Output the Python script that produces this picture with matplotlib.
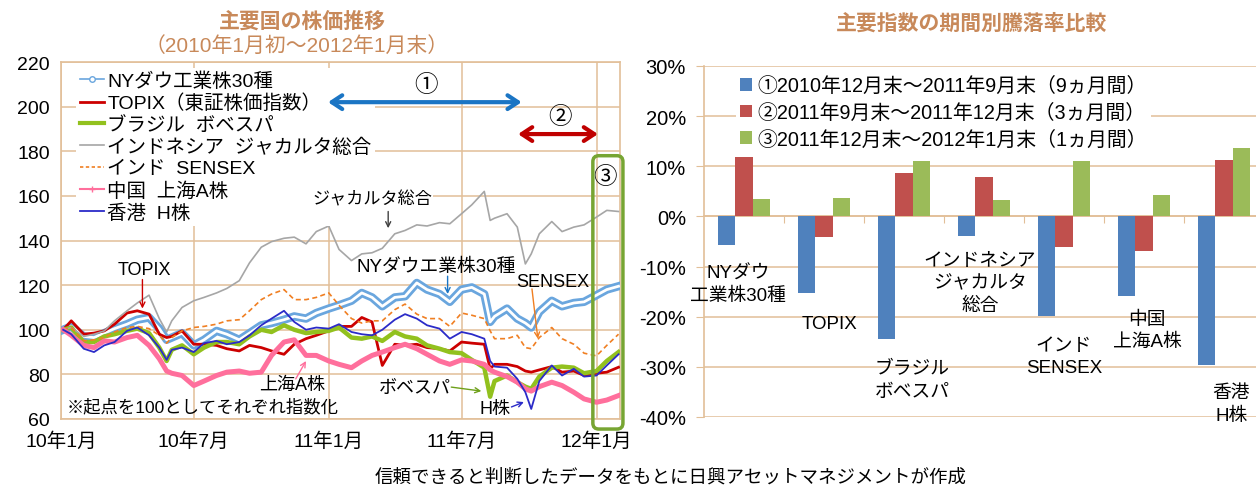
import matplotlib
matplotlib.use("Agg")
import matplotlib.pyplot as plt
import matplotlib.dates as mdates
import matplotlib.patheffects as pe
import pandas as pd
from matplotlib.lines import Line2D
from matplotlib.patches import FancyBboxPatch
from matplotlib.transforms import IdentityTransform

# Arial-like latin, Japanese glyphs fall back to Noto
plt.rcParams["font.family"] = ["Liberation Sans", "Noto Sans CJK JP", "DejaVu Sans"]

# --- left panel: index levels (start = 100) ---
DATES = [
    "2010-01-04", "2010-01-15", "2010-02-01", "2010-02-15", "2010-03-01", "2010-03-15",
    "2010-04-01", "2010-04-15", "2010-05-01", "2010-05-15", "2010-05-25", "2010-06-01",
    "2010-06-15", "2010-07-01", "2010-07-15", "2010-08-01", "2010-08-15", "2010-09-01",
    "2010-09-15", "2010-10-01", "2010-10-15", "2010-11-01", "2010-11-15", "2010-12-01",
    "2010-12-15", "2011-01-01", "2011-01-15", "2011-02-01", "2011-02-15", "2011-03-01",
    "2011-03-15", "2011-04-01", "2011-04-15", "2011-05-01", "2011-05-15", "2011-06-01",
    "2011-06-15", "2011-07-01", "2011-07-15", "2011-08-01", "2011-08-09", "2011-08-15",
    "2011-09-01", "2011-09-15", "2011-09-26", "2011-10-04", "2011-10-15", "2011-11-01",
    "2011-11-15", "2011-12-01", "2011-12-15", "2012-01-01", "2012-01-15", "2012-01-31",
]
NY_DOW = [100, 101.5, 97, 96.5, 98.5, 100.5, 102.5, 104.5, 105.5, 100.5, 95.5, 96.5, 98.5,
          93, 95.5, 99.5, 98, 95.5, 98.5, 102, 103, 104.5, 106, 105, 107.5,
          109.5, 111, 113, 116.5, 114.5, 110.5, 114.5, 115, 121, 118, 116, 112.5, 118, 119,
          116, 103.5, 106, 109.5, 105, 103, 101, 108, 113, 110.5, 112, 112.5, 115.5, 118, 119.5]
TOPIX = [100, 104, 98, 98.5, 99.5, 102.5, 107.5, 108.5, 107, 98, 96.5, 97, 99.5,
         93.5, 93.5, 93, 91.5, 90.5, 93, 92, 90.5, 89, 93.5, 96, 97.5,
         99.5, 101.5, 101.5, 105.5, 103.5, 84, 93.5, 93, 93.5, 92, 91.5, 90.5, 94.5, 94,
         93.5, 82.5, 84.5, 84.5, 83.5, 81.5, 81, 82, 83.5, 81, 81.5, 79.5, 80.5, 81, 83.2]
BOVESPA = [100, 101, 94.5, 94.5, 97, 98, 99.5, 100.5, 98.5, 92, 86, 91, 93,
           89, 92, 94.5, 94.5, 93.5, 97, 100, 99, 102, 100, 98.5, 99,
           99.5, 101, 96.5, 96, 97, 95, 99, 97, 96, 93, 91.5, 90, 89.5, 86.5,
           83, 70, 77, 79.5, 76.5, 74.5, 73.5, 79, 83, 83.5, 83, 80.5, 81.5, 86, 90]
JAKARTA = [100, 101, 97, 98, 99.5, 104, 108.5, 112, 115.5, 105, 99, 104, 110,
           113, 114.5, 116.5, 118.5, 122, 130, 137, 139.5, 141, 141.5, 138.5, 144,
           146.5, 136, 131, 134, 134.5, 136.5, 143, 144.5, 147, 146.5, 148, 147.5, 152, 156,
           162, 149, 150, 152, 146, 129.5, 134, 143, 148.5, 144, 146, 147, 150.5, 153.5, 153]
SENSEX = [100, 101, 95, 95.5, 96.5, 99, 101, 101.5, 100.5, 97.5, 94, 96.5, 99.5,
          101, 101.5, 102.5, 104, 104.5, 108.5, 113.5, 116, 118, 113.5, 113.5, 114.5,
          116.5, 111, 105, 103, 104, 104, 109, 111.5, 107, 105, 105, 101.5, 107.5, 106.5,
          105, 99.5, 96, 96, 97.5, 92, 91.5, 96.5, 101, 96, 93.5, 89.5, 88.3, 93, 98]
SHANGHAI_A = [100, 97.5, 93, 92, 95, 94.5, 96.5, 97.5, 93, 87, 81.5, 80.5, 79.5,
              75, 77, 79.5, 81, 81.5, 80.5, 81, 88.5, 94.5, 95.5, 88.5, 88.5,
              86, 84.5, 83, 86, 88.5, 90, 92, 93.5, 91.5, 89, 86, 84.5, 86.5, 86,
              84.5, 82, 81, 79, 76.5, 73.5, 72.5, 74.5, 76.5, 75, 72, 69, 67.5, 68.5, 70.5]
H_SHARES = [100, 98, 91.5, 90, 93, 94.5, 99.5, 101, 97.5, 92, 86.5, 91, 92,
            90, 94, 95, 93.5, 94.5, 97.5, 102, 105, 108.5, 103.5, 100, 101,
            100.5, 102.5, 99, 98, 97.5, 100, 104.5, 107, 105, 102, 100.5, 96, 99, 98,
            96, 86, 83.5, 83, 78, 72, 64.5, 77, 84, 79.5, 82.5, 79, 79.5, 84, 89]

SERIES_LABELS = ["NYダウ工業株30種", "TOPIX（東証株価指数）", "ブラジル  ボベスパ",
                 "インドネシア  ジャカルタ総合", "インド  SENSEX", "中国  上海A株", "香港  H株"]
X_TICKS = ["2010-01-01", "2010-07-01", "2011-01-01", "2011-07-01", "2012-01-01"]
X_TICK_LABELS = ["10年1月", "10年7月", "11年1月", "11年7月", "12年1月"]

# --- right panel: % change per period ---
CATEGORIES = ["NYダウ\n工業株30種", "TOPIX", "ブラジル\nボベスパ", "インドネシア\nジャカルタ\n総合",
              "インド\nSENSEX", "中国\n上海A株", "香港\nH株"]
PERIOD_1 = [-5.6, -15.3, -24.4, -4.0, -19.8, -15.9, -29.7]
PERIOD_2 = [11.9, -4.2, 8.6, 7.8, -6.0, -6.8, 11.3]
PERIOD_3 = [3.5, 3.6, 11.1, 3.2, 11.1, 4.2, 13.7]
PERIOD_LABELS = ["①2010年12月末～2011年9月末（9ヵ月間）",
                 "②2011年9月末～2011年12月末（3ヵ月間）",
                 "③2011年12月末～2012年1月末（1ヵ月間）"]

GRID = "#E2BF98"
TITLE_C = "#C8895A"
FS = 14

fig = plt.figure(figsize=(12.56, 4.89), dpi=100)

# ---------------- left panel ----------------
ax = fig.add_axes([61 / 1256, 69 / 489, 559 / 1256, 357 / 489])
d = pd.to_datetime(DATES)

ny_line = ax.plot(d, NY_DOW, color="#6AA6DE", lw=2, zorder=3)[0]
ny_line.set_path_effects([pe.Stroke(linewidth=6, foreground="#6AA6DE"),
                          pe.Stroke(linewidth=2, foreground="white")])
ax.plot(d, TOPIX, color="#CC0000", lw=2, zorder=3)
ax.plot(d, BOVESPA, color="#92C11E", lw=3.2, zorder=3)
ax.plot(d, JAKARTA, color="#A6A6A6", lw=1.2, zorder=3)
ax.plot(d, SENSEX, color="#F07F22", lw=1.2, ls=(0, (3, 2)), zorder=3)
ax.plot(d, SHANGHAI_A, color="#FF6F9C", lw=3.6, zorder=3)
ax.plot(d, H_SHARES, color="#2B2BC8", lw=1.3, zorder=3)

ax.set_xlim(pd.Timestamp("2010-01-01"), pd.Timestamp("2012-02-02"))
ax.set_ylim(60, 220)
ax.set_yticks(range(60, 221, 20))
ax.set_xticks(pd.to_datetime(X_TICKS))
ax.set_xticklabels(X_TICK_LABELS)
ax.grid(True, color=GRID, lw=1.1)
ax.set_axisbelow(True)
for s in ax.spines.values():
    s.set_color(GRID)
    s.set_linewidth(1.2)
ax.tick_params(length=0, labelsize=FS)
ax.tick_params(axis="x", pad=9)
ax.tick_params(axis="y", pad=8)

handles = [
    Line2D([], [], color="#6AA6DE", lw=1.2, marker="o", ms=4, mfc="white", mec="#6AA6DE"),
    Line2D([], [], color="#CC0000", lw=2),
    Line2D([], [], color="#92C11E", lw=3),
    Line2D([], [], color="#A6A6A6", lw=1.2),
    Line2D([], [], color="#F07F22", lw=1.2, ls=(0, (2, 1.5))),
    Line2D([], [], color="#FF6F9C", lw=1.5, marker="+", ms=5),
    Line2D([], [], color="#2B2BC8", lw=1.3),
]
leg = ax.legend(handles, SERIES_LABELS, loc="upper left", bbox_to_anchor=(0.027, 0.984),
                borderaxespad=0, frameon=True, fontsize=FS, handlelength=1.25,
                handletextpad=0.15, labelspacing=0.19, borderpad=0.2)
leg.get_frame().set_edgecolor("none")
leg.get_frame().set_facecolor("white")
leg.get_frame().set_alpha(1)
leg.set_zorder(5)

T = pd.Timestamp
# period arrows
ax.annotate("", xy=(T("2011-09-21"), 202), xytext=(T("2010-12-31"), 202),
            arrowprops=dict(arrowstyle="<->,head_length=0.5,head_width=0.33", color="#1B75C4",
                            lw=3, mutation_scale=15, shrinkA=0, shrinkB=0), zorder=6)
ax.text(T("2011-05-13"), 209.5, "①", fontsize=17, ha="center", va="center", zorder=6)
ax.annotate("", xy=(T("2012-01-03"), 187.7), xytext=(T("2011-09-16"), 187.7),
            arrowprops=dict(arrowstyle="<->,head_length=0.5,head_width=0.33", color="#C00000",
                            lw=3, mutation_scale=15, shrinkA=0, shrinkB=0), zorder=6)
ax.text(T("2011-11-12"), 195.3, "②", fontsize=17, ha="center", va="center", zorder=6)
ax.text(T("2012-01-13"), 168.5, "③", fontsize=17, ha="center", va="center", zorder=6)


# series call-outs
def callout(text, tx, ty, a_from, a_to, color, size=13):
    ax.text(T(tx), ty, text, fontsize=size, ha="center", va="center", zorder=6)
    ax.annotate("", xy=(T(a_to[0]), a_to[1]), xytext=(T(a_from[0]), a_from[1]),
                arrowprops=dict(arrowstyle="->", color=color, lw=1, shrinkA=0, shrinkB=0,
                                mutation_scale=9), zorder=6)


ax.text(T("2011-03-01"), 159, "ジャカルタ総合", fontsize=12.3, ha="center", va="center",
        zorder=6, bbox=dict(fc="white", ec="none", pad=1))
ax.annotate("", xy=(T("2011-03-23"), 145.5), xytext=(T("2011-03-23"), 153),
            arrowprops=dict(arrowstyle="->", color="#404040", lw=1, shrinkA=0, shrinkB=0,
                            mutation_scale=9), zorder=6)
callout("TOPIX", "2010-04-25", 127.2, ("2010-04-22", 122.5), ("2010-04-22", 109.5), "#CC0000")
callout("NYダウエ業株30種", "2011-05-28", 128.6, ("2011-06-12", 124), ("2011-06-12", 116), "#1B75C4",
        size=13.5)
callout("SENSEX", "2011-11-03", 121.8, ("2011-10-05", 118.3), ("2011-10-13", 96), "#F07F22")
callout("上海A株", "2010-11-12", 75.7, ("2010-11-17", 78), ("2010-12-01", 86), "#FF6F9C")
callout("ボベスパ", "2011-04-28", 74.3, ("2011-06-17", 74.3), ("2011-07-28", 72.5), "#6EA01A")
callout("H株", "2011-08-16", 64.5, ("2011-09-07", 65.4), ("2011-09-24", 67.6), "#2B2BC8")
ax.text(T("2010-01-08"), 65.8, "※起点を100としてそれぞれ指数化", fontsize=12.5, ha="left",
        va="center", zorder=6)

# rounded box around period ③
x0, y0 = ax.transData.transform((mdates.date2num(T("2011-12-27")), 55.5))
x1, y1 = ax.transData.transform((mdates.date2num(T("2012-02-06")), 178))
box = FancyBboxPatch((x0, y0), x1 - x0, y1 - y0, boxstyle="round,pad=0,rounding_size=6",
                     transform=IdentityTransform(), fill=False, ec="#77A533", lw=2.5,
                     clip_on=False, zorder=7)
fig.add_artist(box)

fig.text(302 / 1256, 1 - 22 / 489, "主要国の株価推移", fontsize=15, fontweight="bold",
         color=TITLE_C, ha="center", va="center")
fig.text(297 / 1256, 1 - 46 / 489, "（2010年1月初～2012年1月末）", fontsize=15,
         color=TITLE_C, ha="center", va="center")

# ---------------- right panel ----------------
ax2 = fig.add_axes([704 / 1256, 71 / 489, 560 / 1256, 351 / 489])
x = list(range(len(CATEGORIES)))
w = 0.22
ax2.bar([i - w for i in x], PERIOD_1, w, color="#4F81BD", label=PERIOD_LABELS[0], zorder=3)
ax2.bar(x, PERIOD_2, w, color="#C0504D", label=PERIOD_LABELS[1], zorder=3)
ax2.bar([i + w for i in x], PERIOD_3, w, color="#9BBB59", label=PERIOD_LABELS[2], zorder=3)

ax2.set_xlim(-0.5, len(CATEGORIES) - 0.5)
ax2.set_ylim(-40, 30)
ax2.set_yticks(range(-40, 31, 10))
ax2.set_yticklabels([f"{v}%" for v in range(-40, 31, 10)])
ax2.set_xticks([i + 0.5 for i in x[:-1]])
ax2.set_xticklabels([])
ax2.grid(True, axis="y", color=GRID, lw=1.1)
ax2.set_axisbelow(True)
for k in ("top", "right"):
    ax2.spines[k].set_visible(False)
ax2.spines["left"].set_color(GRID)
ax2.spines["left"].set_linewidth(1.2)
ax2.spines["bottom"].set_position(("data", 0))
ax2.spines["bottom"].set_color(GRID)
ax2.spines["bottom"].set_linewidth(1.2)
ax2.tick_params(axis="y", length=6, color=GRID, labelsize=14.5, pad=7)
ax2.tick_params(axis="x", length=5, color=GRID, direction="out")

leg2 = ax2.legend(loc="upper left", bbox_to_anchor=(0.057, 0.982), borderaxespad=0,
                  fontsize=14.3, handlelength=0.62, handleheight=0.62, handletextpad=0.25,
                  labelspacing=0.38, borderpad=0.2, frameon=True)
leg2.get_frame().set_edgecolor("none")
leg2.get_frame().set_facecolor("white")
leg2.get_frame().set_alpha(1)

# category names as data labels, one text per line
CAT_POS = [(-0.075, -13.5), (1.075, -21.3), (2.1, -32.6), (2.95, -13.3),
           (4.0, -27.9), (5.04, -22.7), (6.09, -37.4)]
PITCH = 4.5
for (cx, cy), lab in zip(CAT_POS, CATEGORIES):
    lines = lab.split("\n")
    top = cy + PITCH * (len(lines) - 1) / 2
    for k, line in enumerate(lines):
        ax2.text(cx, top - k * PITCH, line, fontsize=13.5, ha="center", va="center", zorder=6)

fig.text(972 / 1256, 1 - 23 / 489, "主要指数の期間別騰落率比較", fontsize=15, fontweight="bold",
         color=TITLE_C, ha="center", va="center")

fig.text(671 / 1256, 1 - 478 / 489, "信頼できると判断したデータをもとに日興アセットマネジメントが作成",
         fontsize=13.3, ha="center", va="center")

fig.savefig("out.png", dpi=100)
